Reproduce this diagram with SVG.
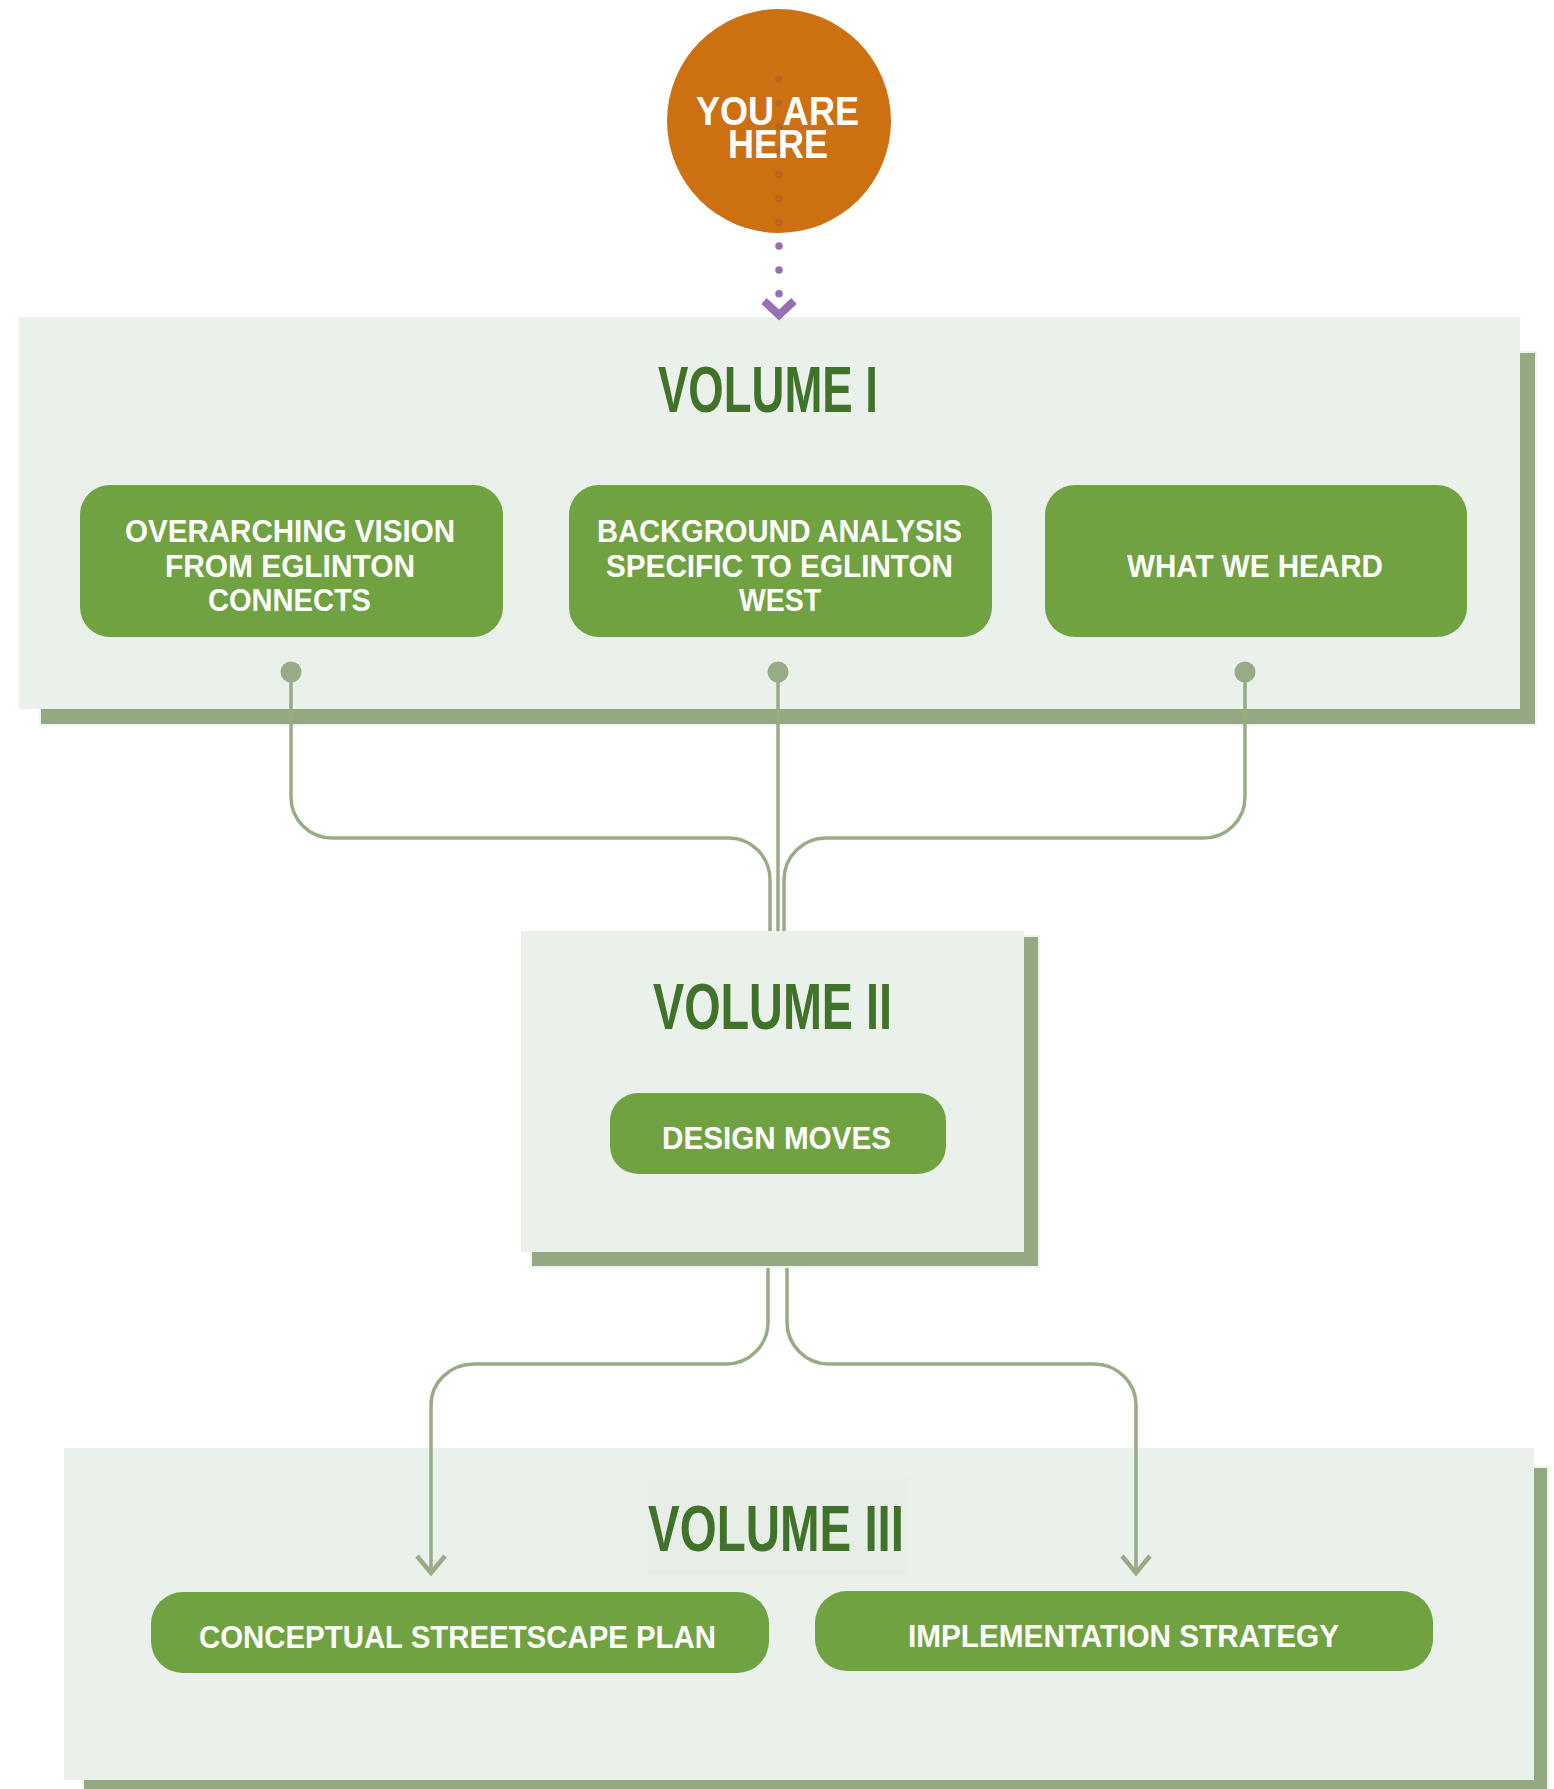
<svg xmlns="http://www.w3.org/2000/svg" width="1554" height="1789" viewBox="0 0 1554 1789">
<style>
.panel{fill:#e9f1ea}
.shadow{fill:#94a982;stroke:#eef4ef;stroke-width:2}
.node{fill:#70a241}
.title{font-family:"Liberation Sans",Arial,sans-serif;font-weight:bold;font-size:65px;fill:#41722a}
.lbl{font-family:"Liberation Sans",Arial,sans-serif;font-weight:bold;font-size:31px;fill:#ffffff}
.here{font-family:"Liberation Sans",Arial,sans-serif;font-weight:bold;font-size:40px;fill:#ffffff}
.conn{fill:none;stroke:#97ac86;stroke-width:3.5}
</style>
<defs>
<marker id="arr" markerUnits="userSpaceOnUse" markerWidth="40" markerHeight="40" viewBox="-20 -20 40 40" refX="0" refY="0" orient="auto">
<path d="M-17,-14 L0,0 L-17,14" fill="none" stroke="#97ac86" stroke-width="4.5"/>
</marker>
</defs>

<g id="volume1">
<rect class="shadow" x="40" y="352" width="1496" height="373"/>
<rect class="panel" x="19" y="317" width="1501" height="392"/>
<text class="title" x="658" y="412" textLength="220" lengthAdjust="spacingAndGlyphs">VOLUME I</text>
</g>

<g id="volume2">
<rect class="shadow" x="531" y="936" width="508" height="331"/>
<rect class="panel" x="521" y="931" width="503" height="321"/>
<text class="title" x="653" y="1029" textLength="239" lengthAdjust="spacingAndGlyphs">VOLUME II</text>
</g>

<g id="volume3">
<rect class="shadow" x="83" y="1467" width="1465" height="330"/>
<rect class="panel" x="64" y="1448" width="1470" height="332"/>
<rect x="648" y="1478" width="260" height="97" fill="#e7ede7"/>
<text class="title" x="648" y="1551" textLength="256" lengthAdjust="spacingAndGlyphs">VOLUME III</text>
</g>

<g id="node-vision">
<rect class="node" x="80" y="485" width="423" height="152" rx="30"/>
<text class="lbl" x="125" y="542" textLength="330" lengthAdjust="spacingAndGlyphs">OVERARCHING VISION</text>
<text class="lbl" x="165" y="577" textLength="250" lengthAdjust="spacingAndGlyphs">FROM EGLINTON</text>
<text class="lbl" x="208" y="611" textLength="163" lengthAdjust="spacingAndGlyphs">CONNECTS</text>
</g>

<g id="node-background">
<rect class="node" x="569" y="485" width="423" height="152" rx="30"/>
<text class="lbl" x="597" y="542" textLength="365" lengthAdjust="spacingAndGlyphs">BACKGROUND ANALYSIS</text>
<text class="lbl" x="606" y="577" textLength="347" lengthAdjust="spacingAndGlyphs">SPECIFIC TO EGLINTON</text>
<text class="lbl" x="739" y="611" textLength="82" lengthAdjust="spacingAndGlyphs">WEST</text>
</g>

<g id="node-heard">
<rect class="node" x="1045" y="485" width="422" height="152" rx="30"/>
<text class="lbl" x="1127" y="577" textLength="256" lengthAdjust="spacingAndGlyphs">WHAT WE HEARD</text>
</g>

<g id="node-design">
<rect class="node" x="610" y="1093" width="336" height="81" rx="28"/>
<text class="lbl" x="662" y="1149" textLength="229" lengthAdjust="spacingAndGlyphs">DESIGN MOVES</text>
</g>

<g id="node-streetscape">
<rect class="node" x="151" y="1592" width="618" height="81" rx="32"/>
<text class="lbl" x="199" y="1648" textLength="517" lengthAdjust="spacingAndGlyphs">CONCEPTUAL STREETSCAPE PLAN</text>
</g>

<g id="node-implementation">
<rect class="node" x="815" y="1591" width="618" height="80" rx="32"/>
<text class="lbl" x="908" y="1647" textLength="431" lengthAdjust="spacingAndGlyphs">IMPLEMENTATION STRATEGY</text>
</g>

<g id="connectors">
<path d="M779,246 V295" fill="none" stroke="#9670b3" stroke-width="7.5" stroke-linecap="round" stroke-dasharray="0 23.9"/>
<path d="M764,301 L779,315 L794,301" fill="none" stroke="#9670b3" stroke-width="8"/>
<circle cx="291" cy="672" r="10.5" fill="#97ac86"/>
<circle cx="778" cy="672" r="10.5" fill="#97ac86"/>
<circle cx="1245" cy="672" r="10.5" fill="#97ac86"/>
<path class="conn" d="M291,672 V797 A41,41 0 0 0 332,838 H729 A41,42 0 0 1 770,880 V931"/>
<path class="conn" d="M778,672 V931"/>
<path class="conn" d="M1245,672 V797 A41,41 0 0 1 1204,838 H826 A42,42 0 0 0 784,880 V931"/>
<path class="conn" d="M768,1268 V1322 A42,42 0 0 1 726,1364 H474 A43,41 0 0 0 431,1405 V1573" marker-end="url(#arr)"/>
<path class="conn" d="M787,1268 V1322 A42,42 0 0 0 829,1364 H1094 A42,41 0 0 1 1136,1405 V1573" marker-end="url(#arr)"/>
</g>

<g id="you-are-here">
<circle cx="779" cy="121" r="112" fill="#cc7012"/>
<path d="M779,79 V223" fill="none" stroke="#6a3d5a" stroke-opacity="0.18" stroke-width="7.5" stroke-linecap="round" stroke-dasharray="0 23.9"/>
<text class="here" x="696" y="125" textLength="163" lengthAdjust="spacingAndGlyphs">YOU ARE</text>
<text class="here" x="728" y="158" textLength="100" lengthAdjust="spacingAndGlyphs">HERE</text>
</g>
</svg>
